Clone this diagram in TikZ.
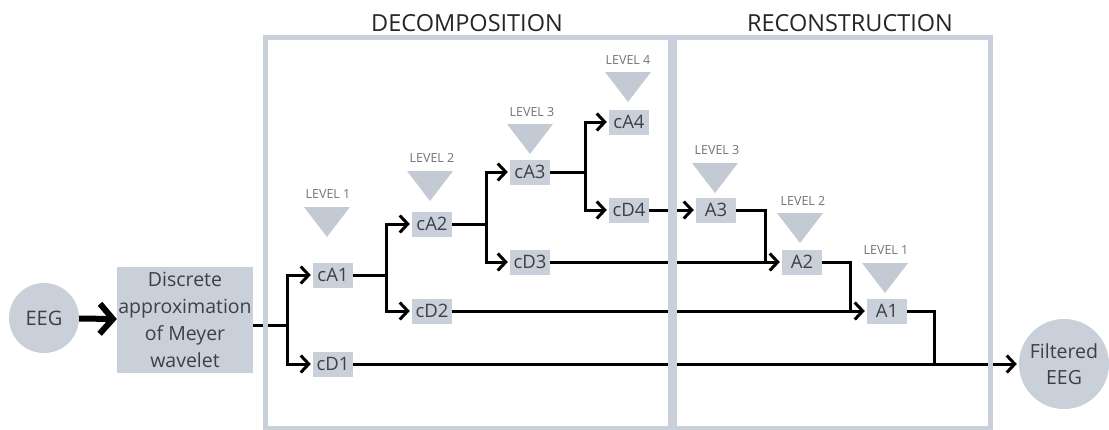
\documentclass[tikz,border=0pt]{standalone}
\usepackage{fontspec}
\setmainfont{Open Sans}
\usetikzlibrary{arrows.meta}
\definecolor{boxfill}{HTML}{C9D0DA}
\definecolor{framec}{HTML}{C9D0D9}
\definecolor{trifill}{HTML}{C3CAD4}
\definecolor{txt}{HTML}{3C4049}
\definecolor{lvl}{HTML}{707378}
\tikzset{
  coef/.style={fill=boxfill, text=txt, minimum width=40pt, minimum height=25pt, inner sep=0pt, font=\fontsize{18.5}{18.5}\selectfont},
  circ/.style={circle, fill=boxfill, text=txt, inner sep=0pt, align=center},
  ln/.style={line width=3pt, black},
  ar/.style={ln, -{Straight Barb[length=8pt,width=17pt]}, shorten >=2pt},
  frame/.style={draw=framec, line width=5pt},
  lvltext/.style={text=lvl, font=\fontsize{12.5}{12.5}\selectfont, inner sep=0pt},
  title/.style={text=black!85, font=\fontsize{23.5}{23.5}\selectfont, inner sep=0pt}
}
\begin{document}
\begin{tikzpicture}[x=1pt,y=-1pt]
\useasboundingbox (0,0) rectangle (1109,429);

% titles
\node[title] (tdec) at (467,23) {DECOMPOSITION};
\node[title] (trec) at (850,23) {RECONSTRUCTION};

% input / output
\node[circ, minimum size=70pt, font=\fontsize{20}{20}\selectfont] (eeg) at (44,318) {EEG};
\node[fill=boxfill, text=txt, minimum width=136pt, minimum height=106pt, inner sep=0pt, align=center,
      font=\fontsize{19.5}{27}\selectfont] (dwt) at (185,320) {Discrete\\approximation\\of Meyer\\wavelet};
\node[circ, minimum size=90pt, font=\fontsize{19.5}{26}\selectfont] (out) at (1064,364) {Filtered\\EEG};

% coefficient nodes
\node[coef] (cA1) at (333,275) {cA1};
\node[coef] (cD1) at (333,364) {cD1};
\node[coef] (cA2) at (432,224) {cA2};
\node[coef] (cD2) at (432,311) {cD2};
\node[coef] (cA3) at (530,172) {cA3};
\node[coef] (cD3) at (530,262) {cD3};
\node[coef] (cA4) at (629,122) {cA4};
\node[coef] (cD4) at (629,210) {cD4};
\node[coef] (A3) at (716,210) {A3};
\node[coef] (A2) at (802,262) {A2};
\node[coef] (A1) at (887,311) {A1};

% level markers
\fill[trifill] (304,207) -- (350,207) -- (327,237) -- cycle;
\node[lvltext] (l1d) at (328,194) {LEVEL 1};
\fill[trifill] (407,171) -- (453,171) -- (430,201) -- cycle;
\node[lvltext] (l2d) at (432,158) {LEVEL 2};
\fill[trifill] (507,124) -- (553,124) -- (530,154) -- cycle;
\node[lvltext] (l3d) at (532,112) {LEVEL 3};
\fill[trifill] (605,72) -- (651,72) -- (628,102) -- cycle;
\node[lvltext] (l4d) at (628,60) {LEVEL 4};
\fill[trifill] (692,163) -- (738,163) -- (715,193) -- cycle;
\node[lvltext] (l3r) at (717,150) {LEVEL 3};
\fill[trifill] (777,213) -- (823,213) -- (800,243) -- cycle;
\node[lvltext] (l2r) at (803,201) {LEVEL 2};
\fill[trifill] (862,263) -- (908,263) -- (885,293) -- cycle;
\node[lvltext] (l1r) at (886,250) {LEVEL 1};

% junction coordinates
\coordinate (j1) at (287,325);
\coordinate (j2) at (386,275);
\coordinate (j3) at (486,224);
\coordinate (j4) at (585,172);
\coordinate (k3) at (765,210);
\coordinate (k2) at (850,262);
\coordinate (k1) at (934,311);

% input arrow
\draw[line width=6pt, -{Straight Barb[length=13pt,width=30pt]}] (eeg) -- (dwt);

% decomposition
\draw[ln] (dwt.east |- j1) -- (j1);
\draw[ar] (j1) |- (cA1);
\draw[ar] (j1) |- (cD1);
\draw[ln] (cA1) -- (j2);
\draw[ar] (j2) |- (cA2);
\draw[ar] (j2) |- (cD2);
\draw[ln] (cA2) -- (j3);
\draw[ar] (j3) |- (cA3);
\draw[ar] (j3) |- (cD3);
\draw[ln] (cA3) -- (j4);
\draw[ar] (j4) |- (cA4);
\draw[ar] (j4) |- (cD4);

% reconstruction
\draw[ar] (cD4) -- (A3);
\draw[ln] (A3) -- (k3) -- (k3 |- A2);
\draw[ar] (cD3) -- (A2);
\draw[ln] (A2) -- (k2) -- (k2 |- A1);
\draw[ar] (cD2) -- (A1);
\draw[ln] (A1) -- (k1) -- (k1 |- out);
\draw[ar] (cD1) -- (out);

% frames
\draw[frame] (265.5,37.5) rectangle (670.5,428);
\draw[frame] (674.5,37.5) rectangle (990.5,428);
\end{tikzpicture}
\end{document}
